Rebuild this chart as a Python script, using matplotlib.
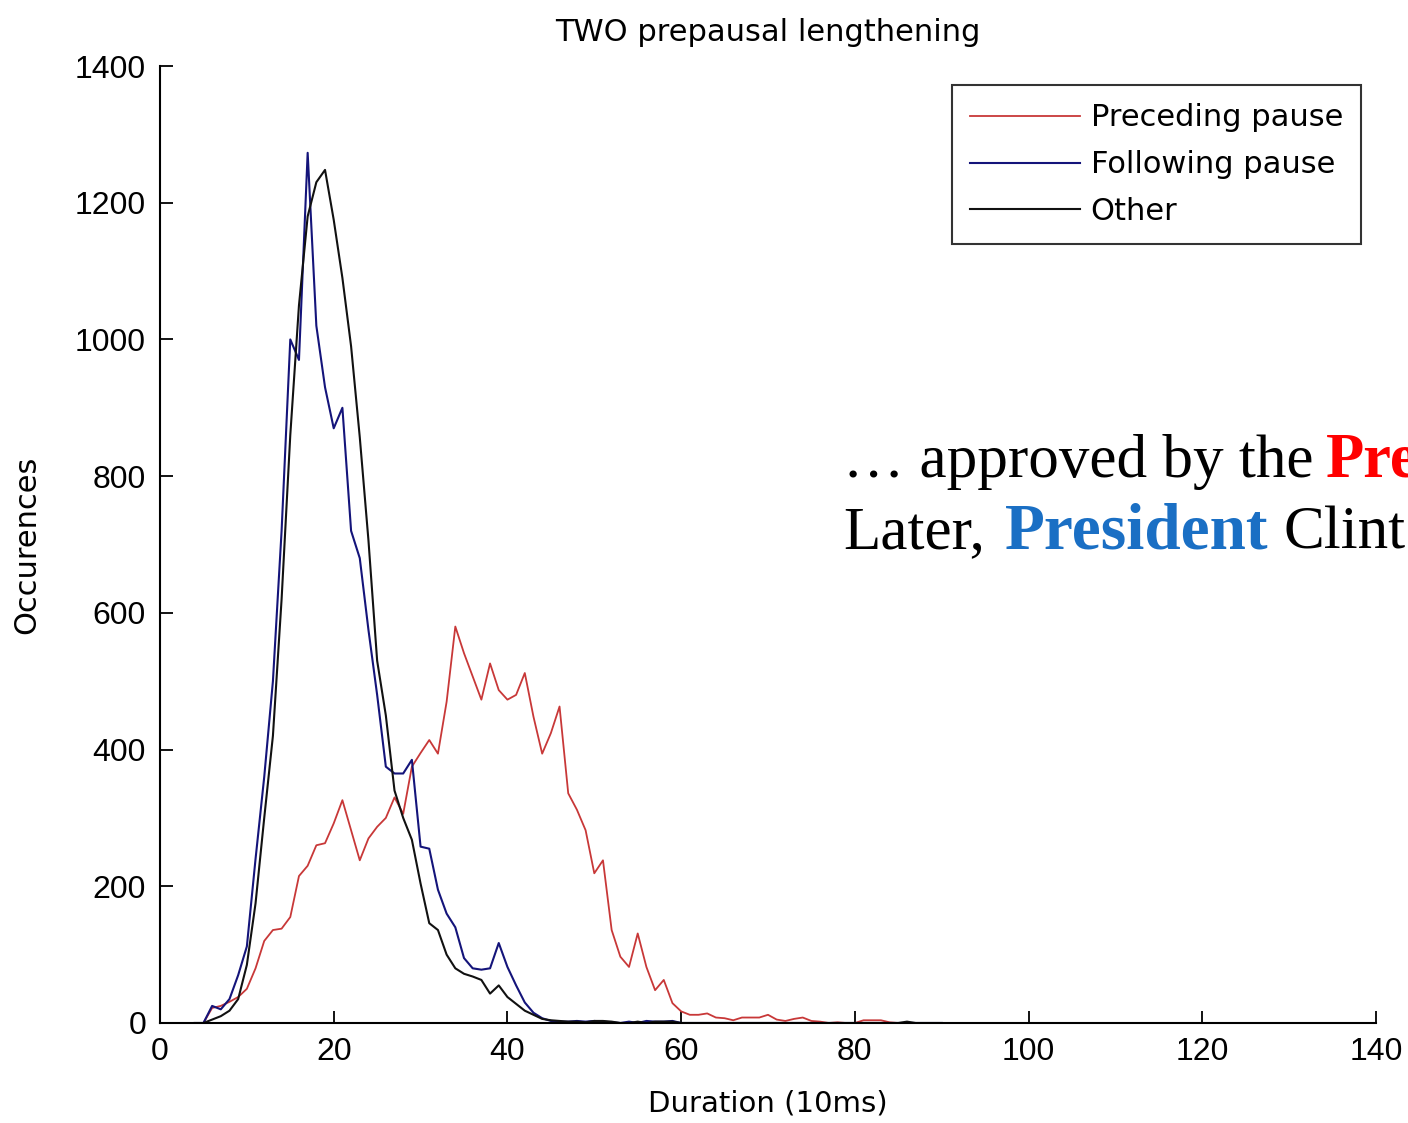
import matplotlib
matplotlib.use('Agg')
import matplotlib.pyplot as plt

# durations 4..90 (units of 10 ms), one count per bin
duration = list(range(4, 91))

following = [0, 0, 25, 20, 35, 70, 112, 240, 360, 500,
             720, 1000, 970, 1273, 1020, 930, 870, 900, 720, 680,
             575, 480, 375, 365, 365, 385, 258, 255, 195, 160,
             140, 95, 80, 78, 80, 117, 82, 55, 30, 15,
             7, 3, 2, 2, 3, 2, 3, 2, 1, 0,
             2, 0, 3, 2, 2, 3, 0, 0, 0, 0,
             0, 0, 0, 0, 0, 0, 0, 0, 0, 0,
             0, 0, 0, 0, 0, 0, 0, 0, 0, 0,
             0, 0, 0, 0, 0, 0, 0]

other = [0, 0, 5, 10, 18, 35, 85, 175, 300, 420,
         620, 860, 1050, 1180, 1230, 1248, 1175, 1090, 990, 857,
         706, 530, 450, 340, 300, 268, 204, 146, 136, 100,
         80, 72, 68, 63, 43, 55, 38, 28, 18, 12,
         6, 4, 3, 2, 2, 1, 3, 3, 2, 0,
         0, 2, 0, 2, 2, 2, 0, 0, 0, 0,
         0, 0, 0, 0, 0, 0, 0, 0, 0, 0,
         0, 0, 0, 0, 0, 0, 0, 0, 0, 0,
         0, 0, 2, 0, 0, 0, 0]

preceding = [0, 0, 22, 25, 31, 38, 50, 80, 120, 136,
             138, 155, 215, 230, 260, 263, 292, 326, 282, 238,
             270, 287, 300, 330, 306, 375, 395, 414, 394, 470,
             580, 541, 507, 473, 526, 487, 473, 480, 512, 448,
             394, 424, 463, 336, 312, 282, 219, 238, 136, 97,
             82, 131, 82, 48, 63, 29, 17, 12, 12, 14,
             8, 7, 4, 8, 8, 8, 12, 5, 3, 6,
             8, 3, 2, 0, 1, 0, 0, 4, 4, 4,
             1, 0, 0, 0, 0, 0, 0]

plt.rcParams['font.family'] = ['DejaVu Sans']

fig = plt.figure(figsize=(14.08, 11.23), dpi=100)
ax = fig.add_axes([160/1408, 100/1123, 1216/1408, 957/1123])

ax.plot(duration, preceding, color='#c83838', lw=1.3, label='Preceding pause')
ax.plot(duration, following, color='#14147a', lw=1.5, label='Following pause')
ax.plot(duration, other, color='#111111', lw=1.5, label='Other')

ax.set_xlim(0, 140)
ax.set_ylim(0, 1400)
ax.set_xticks(range(0, 141, 20))
ax.set_yticks(range(0, 1401, 200))
ax.spines['top'].set_visible(False)
ax.spines['right'].set_visible(False)
for s in ('left', 'bottom'):
    ax.spines[s].set_linewidth(1.5)
ax.tick_params(direction='in', length=9, width=1.3, labelsize=23, pad=10)
for lab in ax.get_xticklabels() + ax.get_yticklabels():
    lab.set_family('Liberation Sans')

ax.set_title('TWO prepausal lengthening', fontsize=22, pad=18)
ax.set_xlabel('Duration (10ms)', fontsize=21, labelpad=16)
ax.set_ylabel('Occurences', fontsize=22, labelpad=24)

leg = ax.legend(loc='upper right', fontsize=22, handlelength=3.6,
                handletextpad=0.35, labelspacing=0.58, borderpad=0.6,
                borderaxespad=0, fancybox=False,
                bbox_to_anchor=(0.988, 0.98))
leg.get_frame().set_edgecolor('black')
leg.get_frame().set_linewidth(1.5)

# slide text laid over the right side (only the part inside the slide)
serif = dict(family='Liberation Serif', va='baseline')
y1 = 1 - 477/1123
y2 = 1 - 548/1123
fig.text(843/1408, y1, '\u2026 approved by the', color='black', fontsize=44, **serif)
fig.text(1326/1408, y1, 'Pre', color='#ff0000', fontweight='bold', fontsize=45, **serif)
fig.text(843/1408, y2, 'Later,', color='black', fontsize=44, **serif)
fig.text(1005/1408, y2, 'President', color='#1a6fc4', fontweight='bold', fontsize=47, **serif)
fig.text(1283/1408, y2, 'Clint', color='black', fontsize=44, **serif)

fig.savefig('out.png', dpi=100)
